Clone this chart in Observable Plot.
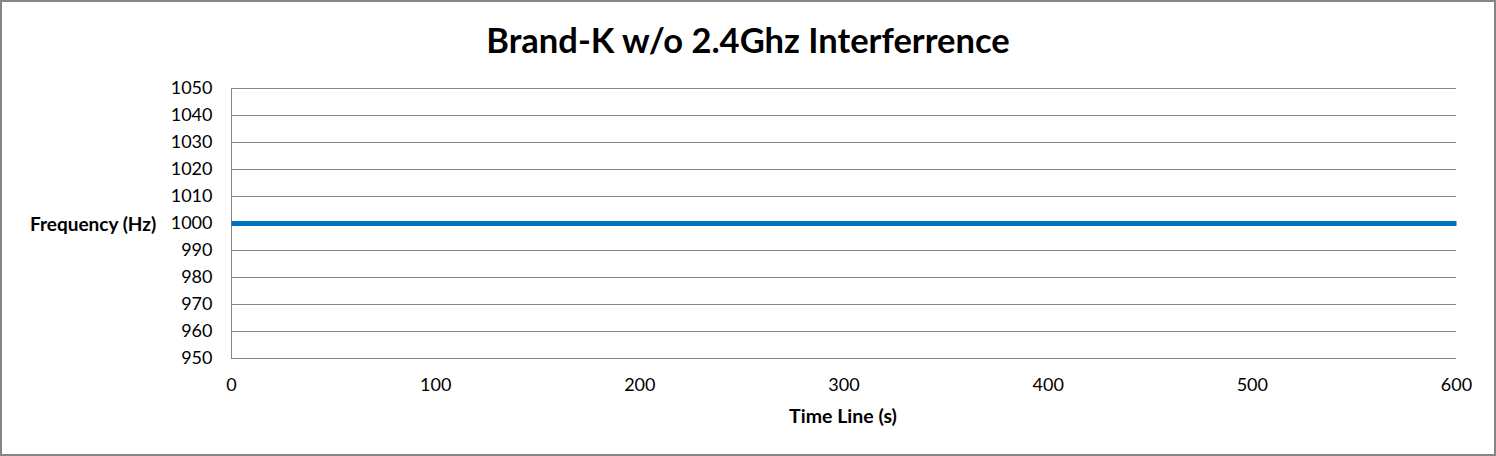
<!DOCTYPE html>
<html>
<head>
<meta charset="utf-8">
<script src="https://cdn.jsdelivr.net/npm/d3@7"></script>
<script src="https://cdn.jsdelivr.net/npm/@observablehq/plot@0.6"></script>
<style>
  html, body { margin: 0; padding: 0; background: #fff; }
  #wrap { position: relative; width: 1496px; height: 456px; font-family: Lato, "Noto Sans", sans-serif; color: #000; }
  #frame { position: absolute; left: 0; top: 0; width: 1496px; height: 456px; box-sizing: border-box; border: 2px solid #868686; pointer-events: none; }
  #title { position: absolute; left: 0; width: 1496px; top: 19px; text-align: center; font-weight: bold; font-size: 34.5px; line-height: 1.2; }
  #ylab { position: absolute; left: 30px; top: 213px; font-weight: bold; font-size: 19px; line-height: 1.2; }
  #xlab { position: absolute; left: 0; width: 1686px; top: 404px; text-align: center; font-weight: bold; font-size: 19.5px; line-height: 1.2; }
  #chart { position: absolute; left: 0; top: 0; }
</style>
</head>
<body>
<div id="wrap">
  <div id="chart"></div>
  <div id="title"></div>
  <div id="ylab"></div>
  <div id="xlab"></div>
  <div id="frame"></div>
</div>
<script>
const titleText = "Brand-K w/o 2.4Ghz Interferrence";
const yLabelText = "Frequency (Hz)";
const xLabelText = "Time Line (s)";
const times = [0, 100, 200, 300, 400, 500, 600];
const frequency = [1000, 1000, 1000, 1000, 1000, 1000, 1000];
const yTicks = [950, 960, 970, 980, 990, 1000, 1010, 1020, 1030, 1040, 1050];
const xTicks = [0, 100, 200, 300, 400, 500, 600];

document.getElementById("title").textContent = titleText;
document.getElementById("ylab").textContent = yLabelText;
document.getElementById("xlab").textContent = xLabelText;

const data = times.map((t, i) => ({t, f: frequency[i]}));

const chart = Plot.plot({
  width: 1496,
  height: 456,
  marginLeft: 231,
  marginRight: 40,
  marginTop: 88,
  marginBottom: 98,
  style: { fontFamily: "Lato, 'Noto Sans', sans-serif", fontSize: "18px", color: "#000", background: "transparent" },
  x: { domain: [0, 600], ticks: xTicks, label: null },
  y: { domain: [950, 1050], ticks: yTicks, label: null },
  marks: [
    Plot.ruleY(yTicks, { stroke: "#868686", strokeWidth: 1, strokeOpacity: 1 }),
    Plot.ruleX([0], { stroke: "#868686", strokeWidth: 1 }),
    Plot.axisY({ ticks: yTicks, tickSize: 0, tickPadding: 19, fontSize: 18, fill: "#000", tickFormat: d => String(d) }),
    Plot.axisX({ ticks: xTicks, tickSize: 0, tickPadding: 20, fontSize: 18, fill: "#000", tickFormat: d => String(d) }),
    Plot.lineY(data, { x: "t", y: "f", stroke: "#0070C0", strokeWidth: 5, strokeLinecap: "butt" })
  ]
});
document.getElementById("chart").appendChild(chart);
</script>
</body>
</html>
